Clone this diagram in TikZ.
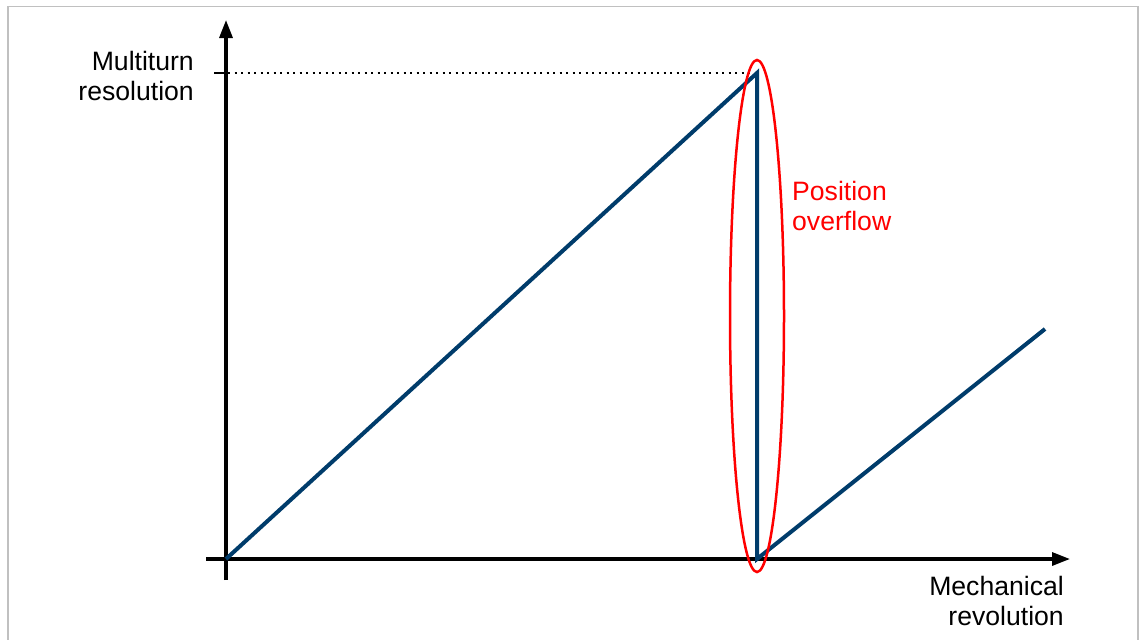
\documentclass[tikz,border=0pt]{standalone}
\usepackage{fontspec}
\setmainfont{Liberation Sans}
\usetikzlibrary{arrows.meta}
\definecolor{curveblue}{HTML}{003C6B}
\definecolor{framegray}{HTML}{C0C0C0}
\tikzset{
  axis/.style={line width=3.2pt, -{Triangle[length=18pt,width=13pt]}},
  curve/.style={line width=4pt, curveblue, line join=miter},
  lbl/.style={font=\fontsize{26.6}{30}\selectfont, align=right, inner sep=0pt},
  redlbl/.style={font=\fontsize{26.6}{30}\selectfont, align=left, inner sep=0pt, text=red},
}
\begin{document}
\begin{tikzpicture}[x=1pt,y=-1pt]
\useasboundingbox (0,0) rectangle (1141,640);
\draw[framegray, line width=1.5pt] (8,660) -- (8,6.5) -- (1138,6.5) -- (1138,660);
% axes
\coordinate (ybot) at (226,580);
\coordinate (ytop) at (226,20);
\coordinate (xleft) at (206,559);
\coordinate (xright) at (1070,559);
\draw[axis] (ybot) -- (ytop);
\draw[axis] (xleft) -- (xright);
% tick and dotted line
\coordinate (tickL) at (214,73);
\coordinate (tickR) at (228,73);
\coordinate (peak) at (757,73);
\coordinate (origin) at (226,559);
\coordinate (drop) at (757,559);
\coordinate (endp) at (1045,329);
\draw[line width=1.5pt] (tickL) -- (tickR);
\draw[line width=1.3pt, dash pattern=on 2pt off 4.5pt] (tickR) -- (peak);
% curve
\draw[curve] (origin) -- (peak) -- (drop) -- (endp);
% ellipse
\draw[red, line width=2.5pt] (757,316) ellipse [x radius=27, y radius=256];
% labels
\node[lbl, anchor=east] (ylab) at (194,76) {Multiturn\\resolution};
\node[lbl, anchor=east] (xlab) at (1064,601) {Mechanical\\revolution};
\node[redlbl, anchor=west] (ovf) at (792,206) {Position\\overflow};
\end{tikzpicture}
\end{document}
